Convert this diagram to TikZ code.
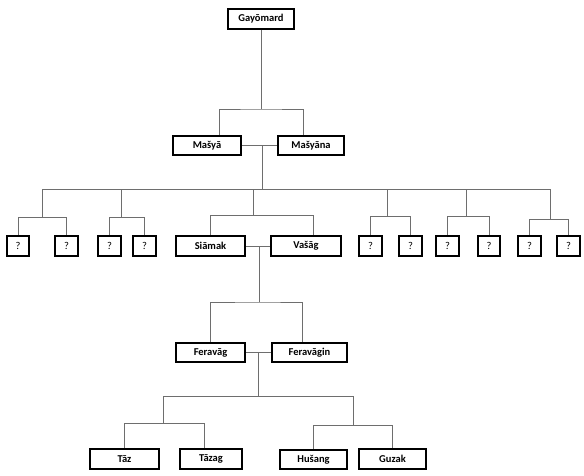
\documentclass[tikz,border=0pt]{standalone}
\usepackage{fontspec}
\setmainfont{Carlito}
\usepackage{xcolor}
\usetikzlibrary{positioning,calc}
\definecolor{lnc}{HTML}{6E6E6E}
\tikzset{
  pers/.style={draw, line width=2.4pt, inner sep=0pt, minimum height=19.5pt,
               font=\bfseries\fontsize{10.5}{12}\selectfont},
  unk/.style ={draw, line width=1.6pt, inner sep=0pt, minimum width=22.5pt,
               minimum height=20.5pt, font=\fontsize{10.5}{12}\selectfont},
  ln/.style  ={draw=lnc, line width=0.8pt},
}
\begin{document}
\begin{tikzpicture}[x=1pt,y=-1pt]
\useasboundingbox (0,0) rectangle (584,475);
% people
\node[pers, minimum width=66pt] (gay) at (261,19)    {Gayōmard};
\node[pers, minimum width=68pt] (msy) at (207,145.5) {Mašyā};
\node[pers, minimum width=66pt] (msn) at (311,145.5) {Mašyāna};
\node[pers, minimum width=69pt] (sia) at (210.5,246) {Siāmak};
\node[pers, minimum width=70pt] (vas) at (306,246)   {Vašāg};
\node[pers, minimum width=69pt] (frv) at (210.5,352.5) {Feravāg};
\node[pers, minimum width=75pt] (frn) at (309.5,352.5) {Feravāgin};
\node[pers, minimum width=69pt] (taz) at (124.5,459) {Tāz};
\node[pers, minimum width=62pt] (tzg) at (211,459)   {Tāzag};
\node[pers, minimum width=67pt] (hus) at (313.5,459.5) {Hušang};
\node[pers, minimum width=67pt] (guz) at (392.5,459) {Guzak};
% unknown children
\foreach \x [count=\i] in {18,66.5,109.5,144.5,370.5,410.5,447.5,489,529.5,568.5}
  \node[unk] (q\i) at (\x,246) {?};

% Gayomard -> Masya / Masyana
\coordinate (b1) at (261,109);
\draw[ln] (gay) -- (b1);
\draw[ln] ($(msy.north)+(12,0)$) |- (b1) -| ($(msn.north)+(-8,0)$);
\draw[ln] (msy) -- (msn);
% children of the first couple
\coordinate (b2) at (262,189);
\coordinate (bl) at (42,189);
\coordinate (br) at (550,189);
\draw[ln] (b2 |- msy.east) -- (b2);
\draw[ln] (bl) -- (br);
\foreach \d/\y/\a/\b/\o in {42/217/q1/q2/0, 121/217/q3/q4/0, 253/215/sia/vas/7,
                           387/216/q5/q6/0, 466/216/q7/q8/0, 550/219/q9/q10/0}
  \draw[ln] (\d,189) -- (\d,\y) -| ($(\b.north)+(\o,0)$) (\d,\y) -| (\a.north);
% Siamak / Vasag -> Feravag / Feravagin
\draw[ln] (sia) -- (vas);
\coordinate (b3) at (259,302);
\draw[ln] (b3 |- sia.east) -- (b3);
\draw[ln] (frv.north) |- (b3) -| ($(frn.north)+(-7.5,0)$);
% Feravag / Feravagin -> four children
\draw[ln] (frv) -- (frn);
\coordinate (b4) at (258,396);
\coordinate (b5) at (163,396);
\coordinate (b6) at (353,396);
\draw[ln] (b4 |- frv.east) -- (b4);
\draw[ln] (b5) -- (b6);
\draw[ln] (b5) -- (b5 |- 0,423) -| ($(tzg.north)+(-7,0)$) (b5 |- 0,423) -| (taz.north);
\draw[ln] (b6) -- (b6 |- 0,425) -| (guz.north) (b6 |- 0,425) -| (hus.north);
\end{tikzpicture}
\end{document}
